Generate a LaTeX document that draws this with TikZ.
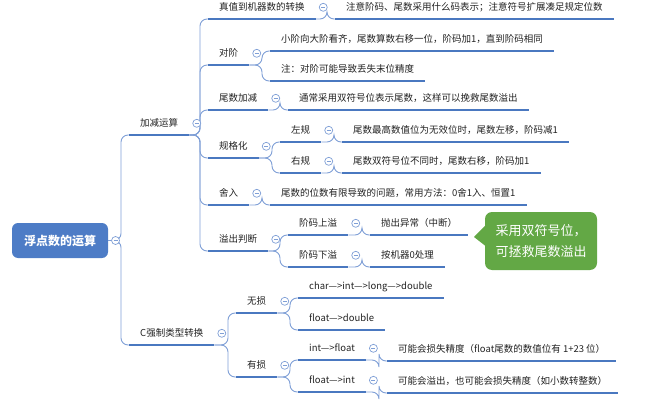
\documentclass[tikz,border=0pt]{standalone}
\usepackage{fontspec}
\setmainfont{Noto Sans CJK SC}
\usetikzlibrary{positioning}
\definecolor{ublue}{HTML}{4A78C0}
\definecolor{lblue}{HTML}{7F9FD6}
\definecolor{rootblue}{HTML}{4D7CC6}
\definecolor{notegreen}{HTML}{63A845}
\definecolor{txt}{HTML}{222222}
\tikzset{
  topic/.style={anchor=south west, inner xsep=11pt, inner ysep=6.5pt,
    text height=8pt, text depth=2pt, text=txt, font=\fontsize{9.5pt}{11pt}\selectfont},
  uline/.style={draw=ublue, line width=2.6pt},
  link/.style={draw=lblue, line width=0.9pt, rounded corners=7pt},
  fold/.style={circle, draw=lblue, fill=white, line width=0.7pt, minimum size=8pt, inner sep=0pt,
    path picture={\draw[lblue, line width=0.6pt] ([xshift=-2pt]path picture bounding box.center)
      -- ([xshift=2pt]path picture bounding box.center);}},
}

\begin{document}
\begin{tikzpicture}[x=1pt, y=-1pt]
\useasboundingbox (0,0) rectangle (646,404);
% root
\node[fill=rootblue, rounded corners=6pt, minimum width=96pt, minimum height=35pt, text=white,
  font=\fontsize{12pt}{14pt}\selectfont\bfseries] (root) at (60,240.5) {浮点数的运算};
% first level
\node[topic] (add) at (129,135) {加减运算};
\node[topic] (cast) at (129,345) {C强制类型转换};
% add branch
\node[topic] (conv) at (208,19) {真值到机器数的转换};
\node[topic] (conv1) at (335,19) {注意阶码、尾数采用什么码表示；注意符号扩展凑足规定位数};
\node[topic] (align) at (208,65) {对阶};
\node[topic] (align1) at (270,51) {小阶向大阶看齐，尾数算数右移一位，阶码加1，直到阶码相同};
\node[topic] (align2) at (270,81) {注：对阶可能导致丢失末位精度};
\node[topic] (mant) at (208,110) {尾数加减};
\node[topic] (mant1) at (288,110) {通常采用双符号位表示尾数，这样可以挽救尾数溢出};
\node[topic] (norm) at (208,158) {规格化};
\node[topic] (left) at (280,142) {左规};
\node[topic] (left1) at (342,142) {尾数最高数值位为无效位时，尾数左移，阶码减1};
\node[topic] (right) at (280,173) {右规};
\node[topic] (right1) at (342,173) {尾数双符号位不同时，尾数右移，阶码加1};
\node[topic] (round) at (208,205) {舍入};
\node[topic] (round1) at (270,205) {尾数的位数有限导致的问题，常用方法：0舍1入、恒置1};
\node[topic] (ovf) at (208,251) {溢出判断};
\node[topic] (up) at (288,235) {阶码上溢};
\node[topic] (up1) at (370,235) {抛出异常（中断）};
\node[topic] (down) at (288,267) {阶码下溢};
\node[topic] (down1) at (370,267) {按机器0处理};
% cast branch
\node[topic] (safe) at (236,313) {无损};
\node[topic] (safe1) at (298,298) {char—>int—>long—>double};
\node[topic] (safe2) at (298,330) {float—>double};
\node[topic] (loss) at (236,377) {有损};
\node[topic] (itof) at (298,360) {int—>float};
\node[topic] (itof1) at (387,361) {可能会损失精度（float尾数的数值位有 1+23 位）};
\node[topic] (ftoi) at (298,392) {float—>int};
\node[topic] (ftoi1) at (387,393) {可能会溢出，也可能会损失精度（如小数转整数）};

% connectors, child back to parent
\foreach \c in {add,cast}
  \draw[link] (\c.south west) -- ++(-8,0) |- (root.east);
\foreach \p/\c in {add/conv,add/align,add/mant,add/norm,add/round,add/ovf,
  conv/conv1,align/align1,align/align2,mant/mant1,norm/left,norm/right,
  left/left1,right/right1,round/round1,ovf/up,ovf/down,up/up1,down/down1,
  cast/safe,cast/loss,safe/safe1,safe/safe2,loss/itof,loss/ftoi,itof/itof1,ftoi/ftoi1}
  \draw[link] (\c.south west) -- ++(-8,0) |- (\p.south east);
% underlines
\foreach \n in {add,cast,conv,conv1,align,align1,align2,mant,mant1,norm,left,left1,
  right,right1,round,round1,ovf,up,up1,down,down1,safe,safe1,safe2,loss,itof,itof1,ftoi,ftoi1}
  \draw[uline] (\n.south west) -- (\n.south east);
% fold markers
\foreach \n in {root,add,cast,conv,align,mant,norm,left,right,round,ovf,up,down,safe,loss,itof,ftoi}
  \node[fold] (\n-fold) [right=3pt of \n] {};

% green note with pointer
\node[fill=notegreen, rounded corners=7pt, minimum width=112pt, minimum height=58pt, text=white,
  align=left, font=\fontsize{13pt}{21pt}\selectfont] (note) at (541,241) {采用双符号位，\\可拯救尾数溢出};
\coordinate (notetip) at (474,237);
\fill[notegreen] (notetip) -- ([shift={(2pt,17pt)}]note.west) -- ([shift={(2pt,-6pt)}]note.west) -- cycle;
\end{tikzpicture}
\end{document}
